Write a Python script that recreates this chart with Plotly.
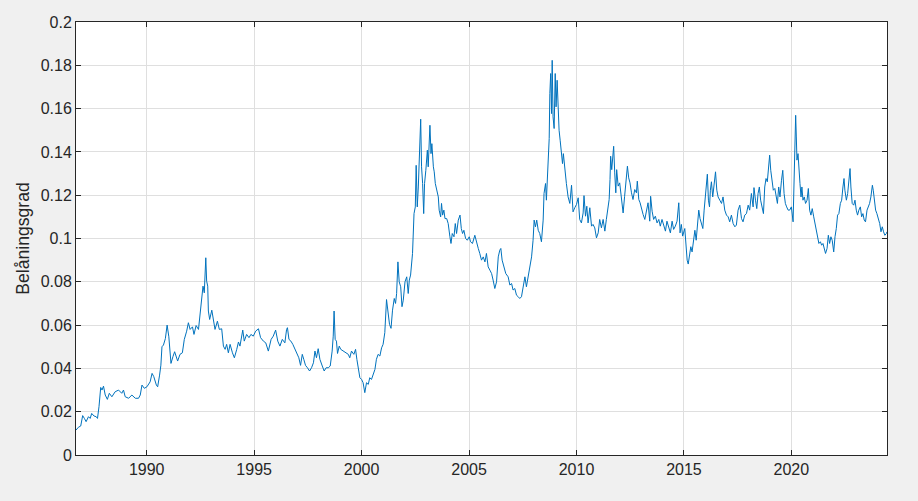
import plotly.graph_objects as go

# decimal year and loan-to-value ratio (belåningsgrad)
years = [
    1986.71, 1986.82, 1986.93, 1987.02, 1987.10, 1987.18, 1987.29, 1987.37, 1987.44, 1987.55,
    1987.65, 1987.71, 1987.78, 1987.82, 1987.86, 1987.92, 1987.99, 1988.07, 1988.17, 1988.26,
    1988.38, 1988.53, 1988.69, 1988.84, 1988.92, 1989.00, 1989.16, 1989.31, 1989.47, 1989.62,
    1989.70, 1989.78, 1989.89, 1990.01, 1990.16, 1990.25, 1990.33, 1990.45, 1990.51, 1990.60,
    1990.66, 1990.71, 1990.78, 1990.87, 1990.95, 1991.03, 1991.13, 1991.22, 1991.30,
    1991.44, 1991.55, 1991.66, 1991.75, 1991.86, 1991.94, 1992.02, 1992.13, 1992.20, 1992.30,
    1992.41, 1992.48, 1992.56, 1992.62, 1992.68, 1992.75, 1992.79, 1992.84, 1992.87, 1992.93,
    1993.03, 1993.10, 1993.18, 1993.29, 1993.38, 1993.49, 1993.57, 1993.65, 1993.72, 1993.80,
    1993.88, 1993.99, 1994.08, 1994.19, 1994.27, 1994.34, 1994.47, 1994.54, 1994.65, 1994.76,
    1994.85, 1994.96, 1995.07, 1995.20, 1995.30, 1995.43, 1995.54, 1995.66, 1995.79, 1995.89,
    1996.00, 1996.10, 1996.20, 1996.31,
    1996.43, 1996.51, 1996.55, 1996.62, 1996.71, 1996.80, 1996.90, 1996.99, 1997.08, 1997.16,
    1997.24, 1997.31, 1997.39, 1997.48, 1997.58, 1997.67, 1997.76, 1997.83, 1997.90, 1997.98,
    1998.06, 1998.17, 1998.26, 1998.35, 1998.45, 1998.54, 1998.63, 1998.68, 1998.72, 1998.77,
    1998.83, 1998.88, 1998.96, 1999.03, 1999.14, 1999.25, 1999.38, 1999.45, 1999.53, 1999.64,
    1999.72, 1999.78, 1999.84, 1999.92, 2000.00, 2000.07, 2000.15, 2000.23, 2000.31, 2000.38,
    2000.46, 2000.54, 2000.62, 2000.69, 2000.77, 2000.85, 2000.93, 2001.00, 2001.08, 2001.16,
    2001.24, 2001.30,
    2001.37, 2001.44, 2001.52, 2001.58, 2001.63, 2001.69, 2001.75, 2001.82, 2001.88, 2001.94,
    2002.02, 2002.10, 2002.17, 2002.22, 2002.28, 2002.33, 2002.37, 2002.44, 2002.50, 2002.54,
    2002.59, 2002.64, 2002.68, 2002.75, 2002.79, 2002.84, 2002.89, 2002.93, 2002.99, 2003.06,
    2003.10, 2003.15, 2003.18, 2003.23, 2003.27, 2003.34, 2003.38, 2003.43, 2003.49, 2003.57,
    2003.61, 2003.68, 2003.72, 2003.77, 2003.83, 2003.88, 2003.96, 2004.03, 2004.11, 2004.16,
    2004.22, 2004.30, 2004.36, 2004.42, 2004.50, 2004.58, 2004.64, 2004.70, 2004.76, 2004.84,
    2004.92, 2005.01, 2005.07, 2005.16,
    2005.27, 2005.35, 2005.43, 2005.50, 2005.58, 2005.66, 2005.74, 2005.81, 2005.89, 2005.97,
    2006.05, 2006.12, 2006.20, 2006.28, 2006.36, 2006.43, 2006.48, 2006.54, 2006.63, 2006.71,
    2006.82, 2006.90, 2006.98, 2007.05, 2007.13, 2007.21, 2007.29, 2007.36, 2007.44, 2007.52,
    2007.60, 2007.67, 2007.75, 2007.83, 2007.91, 2007.98, 2008.03, 2008.09, 2008.15, 2008.22,
    2008.29, 2008.37, 2008.45, 2008.49, 2008.56, 2008.60, 2008.65, 2008.68, 2008.73, 2008.76,
    2008.80, 2008.84, 2008.87, 2008.91, 2008.96, 2009.01, 2009.05, 2009.10, 2009.15, 2009.19,
    2009.24, 2009.30, 2009.35, 2009.39, 2009.46, 2009.53, 2009.61, 2009.69, 2009.77, 2009.84,
    2009.92, 2010.00, 2010.08, 2010.15, 2010.23, 2010.31, 2010.35, 2010.42, 2010.48, 2010.54,
    2010.62, 2010.70, 2010.77, 2010.85, 2010.93, 2011.01, 2011.08, 2011.16, 2011.24, 2011.32,
    2011.39, 2011.47, 2011.52, 2011.56, 2011.59, 2011.64, 2011.69, 2011.73, 2011.78, 2011.83,
    2011.87, 2011.94, 2012.01, 2012.09, 2012.17, 2012.24, 2012.32, 2012.37, 2012.43, 2012.49,
    2012.56, 2012.63, 2012.71, 2012.79, 2012.83, 2012.90, 2012.96, 2013.02, 2013.10, 2013.18,
    2013.25, 2013.33, 2013.41, 2013.45, 2013.52, 2013.59, 2013.67, 2013.75, 2013.83, 2013.90,
    2013.98, 2014.06, 2014.14, 2014.21, 2014.29, 2014.37, 2014.45, 2014.52, 2014.60, 2014.68,
    2014.76, 2014.82, 2014.88, 2014.94,
    2015.04, 2015.09, 2015.15, 2015.20, 2015.26, 2015.32, 2015.38, 2015.44, 2015.51, 2015.57,
    2015.63, 2015.69, 2015.75, 2015.82, 2015.88, 2015.94, 2016.00, 2016.06, 2016.09, 2016.14,
    2016.19, 2016.23, 2016.28, 2016.34, 2016.40, 2016.47, 2016.53, 2016.59, 2016.67, 2016.75,
    2016.82, 2016.90, 2016.98, 2017.06, 2017.13, 2017.21, 2017.29, 2017.37, 2017.44, 2017.52,
    2017.60, 2017.68, 2017.75, 2017.83, 2017.91, 2017.99, 2018.06, 2018.14, 2018.22, 2018.26,
    2018.33, 2018.39, 2018.45, 2018.51, 2018.57, 2018.64, 2018.70, 2018.76, 2018.82, 2018.88,
    2018.95, 2018.99, 2019.04, 2019.10, 2019.16, 2019.23, 2019.29, 2019.35, 2019.41, 2019.47,
    2019.54, 2019.60, 2019.66, 2019.72, 2019.78, 2019.85,
    2019.92, 2020.00, 2020.08, 2020.12, 2020.17, 2020.20, 2020.23, 2020.26, 2020.31, 2020.35,
    2020.40, 2020.45, 2020.49, 2020.54, 2020.60, 2020.66, 2020.73, 2020.79, 2020.85, 2020.91,
    2020.97, 2021.04, 2021.10, 2021.16, 2021.22, 2021.28, 2021.35, 2021.41, 2021.47, 2021.53,
    2021.59, 2021.66, 2021.72, 2021.78, 2021.84, 2021.90, 2021.97, 2022.03, 2022.09, 2022.15,
    2022.21, 2022.28, 2022.34, 2022.40, 2022.45, 2022.49, 2022.56, 2022.62, 2022.68, 2022.73,
    2022.77, 2022.83, 2022.90, 2022.96, 2023.02, 2023.08, 2023.14, 2023.21, 2023.27, 2023.33,
    2023.39, 2023.45, 2023.52, 2023.58, 2023.64, 2023.70, 2023.77, 2023.81, 2023.86, 2023.92,
    2023.98, 2024.04, 2024.11, 2024.17, 2024.23, 2024.29, 2024.35, 2024.42, 2024.45,
]

belaning = [
    0.0115, 0.0128, 0.0134, 0.0182, 0.0169, 0.0154, 0.0177, 0.0169, 0.0192, 0.0180,
    0.0177, 0.0169, 0.0223, 0.0269, 0.0312, 0.0300, 0.0318, 0.0277, 0.0257, 0.0285,
    0.0269, 0.0292, 0.0300, 0.0285, 0.0300, 0.0269, 0.0262, 0.0277, 0.0262, 0.0262,
    0.0277, 0.0323, 0.0308, 0.0315, 0.0338, 0.0377, 0.0362, 0.0323, 0.0315, 0.0369,
    0.0415, 0.0500, 0.0508, 0.0538, 0.0600, 0.0546, 0.0423, 0.0454, 0.0477,
    0.0434, 0.0465, 0.0472, 0.0534, 0.0572, 0.0611, 0.0580, 0.0592, 0.0557, 0.0598,
    0.0580, 0.0657, 0.0718, 0.0780, 0.0749, 0.0911, 0.0803, 0.0780, 0.0665, 0.0626,
    0.0669, 0.0618, 0.0580, 0.0618, 0.0580, 0.0583, 0.0503, 0.0488, 0.0511, 0.0472,
    0.0511, 0.0472, 0.0449, 0.0488, 0.0522, 0.0503, 0.0577, 0.0526, 0.0557, 0.0542,
    0.0557, 0.0549, 0.0572, 0.0583, 0.0542, 0.0526, 0.0518, 0.0480, 0.0534, 0.0549,
    0.0577, 0.0526, 0.0503, 0.0534,
    0.0518, 0.0580, 0.0588, 0.0534, 0.0526, 0.0511, 0.0488, 0.0465, 0.0449, 0.0414,
    0.0465, 0.0442, 0.0414, 0.0403, 0.0388, 0.0403, 0.0426, 0.0480, 0.0449, 0.0491,
    0.0442, 0.0411, 0.0388, 0.0403, 0.0403, 0.0411, 0.0480, 0.0549, 0.0665, 0.0534,
    0.0526, 0.0469, 0.0503, 0.0488, 0.0480, 0.0472, 0.0465, 0.0449, 0.0480, 0.0465,
    0.0488, 0.0442, 0.0403, 0.0357, 0.0349, 0.0334, 0.0288, 0.0334, 0.0326, 0.0357,
    0.0349, 0.0372, 0.0395, 0.0442, 0.0465, 0.0457, 0.0495, 0.0511, 0.0565, 0.0718,
    0.0642, 0.0603,
    0.0585, 0.0669, 0.0723, 0.0700, 0.0746, 0.0892, 0.0800, 0.0777, 0.0685, 0.0715,
    0.0800, 0.0823, 0.0746, 0.0808, 0.0831, 0.0900, 0.0931, 0.1115, 0.1146, 0.1338,
    0.1146, 0.1238, 0.1362, 0.1551, 0.1331, 0.1254, 0.1115, 0.1254, 0.1315, 0.1408,
    0.1331, 0.1469, 0.1523, 0.1392, 0.1438, 0.1331, 0.1308, 0.1254, 0.1223, 0.1192,
    0.1131, 0.1100, 0.1162, 0.1108, 0.1131, 0.1092, 0.1092, 0.1069, 0.1008, 0.0977,
    0.1023, 0.1008, 0.1069, 0.1023, 0.1085, 0.1108, 0.1046, 0.1023, 0.1038, 0.1000,
    0.0992, 0.1008, 0.0985, 0.0977,
    0.1015, 0.0977, 0.0954, 0.0931, 0.0900, 0.0915, 0.0892, 0.0931, 0.0869, 0.0854,
    0.0838, 0.0808, 0.0769, 0.0800, 0.0915, 0.0946, 0.0954, 0.0900, 0.0869, 0.0838,
    0.0823, 0.0785, 0.0792, 0.0762, 0.0769, 0.0738, 0.0731, 0.0723, 0.0731, 0.0777,
    0.0823, 0.0777, 0.0823, 0.0885, 0.0915, 0.0992, 0.1085, 0.1054, 0.1085, 0.1038,
    0.1023, 0.0985, 0.1085, 0.1208, 0.1254, 0.1177, 0.1269, 0.1323, 0.1462, 0.1669,
    0.1762, 0.1577, 0.1823, 0.1562, 0.1508, 0.1762, 0.1608, 0.1731, 0.1562, 0.1500,
    0.1454, 0.1408, 0.1346, 0.1392, 0.1315, 0.1254, 0.1192, 0.1162, 0.1246, 0.1123,
    0.1142, 0.1157, 0.1188, 0.1088, 0.1072, 0.1118, 0.1198, 0.1103, 0.1149, 0.1072,
    0.1142, 0.1057, 0.1065, 0.1049, 0.1003, 0.1026, 0.1088, 0.1049, 0.1088, 0.1034,
    0.1088, 0.1142, 0.1180, 0.1272, 0.1380, 0.1318, 0.1408, 0.1426, 0.1303, 0.1211,
    0.1318, 0.1242, 0.1257, 0.1195, 0.1118, 0.1195, 0.1288, 0.1334, 0.1280, 0.1257,
    0.1211, 0.1180, 0.1226, 0.1211, 0.1265, 0.1180, 0.1165, 0.1134, 0.1111, 0.1088,
    0.1118, 0.1165, 0.1080, 0.1195, 0.1126, 0.1088, 0.1103, 0.1072, 0.1088, 0.1057,
    0.1088, 0.1065, 0.1034, 0.1080, 0.1057, 0.1026, 0.1080, 0.1042, 0.1057, 0.1080,
    0.1165, 0.1026, 0.1065, 0.1011,
    0.1046, 0.0962, 0.0900, 0.0882, 0.0915, 0.0962, 0.0938, 0.0977, 0.1038, 0.0992,
    0.1069, 0.1131, 0.1092, 0.1069, 0.1046, 0.1131, 0.1192, 0.1269, 0.1297, 0.1177,
    0.1146, 0.1223, 0.1262, 0.1192, 0.1238, 0.1308, 0.1223, 0.1192, 0.1177, 0.1162,
    0.1192, 0.1131, 0.1108, 0.1100, 0.1077, 0.1108, 0.1069, 0.1054, 0.1062, 0.1131,
    0.1154, 0.1092, 0.1077, 0.1108, 0.1115, 0.1154, 0.1131, 0.1208, 0.1146, 0.1235,
    0.1177, 0.1138, 0.1208, 0.1238, 0.1177, 0.1146, 0.1115, 0.1238, 0.1277, 0.1262,
    0.1338, 0.1385, 0.1315, 0.1269, 0.1223, 0.1231, 0.1192, 0.1162, 0.1238, 0.1192,
    0.1269, 0.1315, 0.1208, 0.1162, 0.1146, 0.1131,
    0.1131, 0.1146, 0.1077, 0.1254, 0.1454, 0.1569, 0.1469, 0.1362, 0.1392, 0.1315,
    0.1254, 0.1192, 0.1238, 0.1177, 0.1192, 0.1162, 0.1177, 0.1231, 0.1131, 0.1108,
    0.1138, 0.1100, 0.1069, 0.1023, 0.0992, 0.0977, 0.0985, 0.0969, 0.0977, 0.0954,
    0.0931, 0.0954, 0.1015, 0.0977, 0.1008, 0.0992, 0.0938, 0.1008, 0.1046, 0.1108,
    0.1115, 0.1162, 0.1177, 0.1238, 0.1277, 0.1223, 0.1177, 0.1208, 0.1269, 0.1323,
    0.1238, 0.1162, 0.1154, 0.1177, 0.1131, 0.1108, 0.1131, 0.1146, 0.1100, 0.1115,
    0.1085, 0.1077, 0.1131, 0.1146, 0.1162, 0.1192, 0.1246, 0.1223, 0.1162, 0.1131,
    0.1115, 0.1092, 0.1069, 0.1031, 0.1054, 0.1031, 0.1015, 0.1023, 0.1031,
]

x_ticks = [1990, 1995, 2000, 2005, 2010, 2015, 2020]
y_ticks = [0, 0.02, 0.04, 0.06, 0.08, 0.1, 0.12, 0.14, 0.16, 0.18, 0.2]
y_tick_labels = ['0', '0.02', '0.04', '0.06', '0.08', '0.1', '0.12', '0.14',
                 '0.16', '0.18', '0.2']

axis_color = '#262626'
grid_color = '#dfdfdf'
font_family = 'Liberation Sans, Arial, sans-serif'

fig = go.Figure()
fig.add_trace(go.Scatter(
    x=years,
    y=belaning,
    mode='lines',
    line=dict(color='#0072BD', width=1),
    showlegend=False,
))

axis_common = dict(
    showline=True,
    linecolor=axis_color,
    linewidth=1,
    mirror='allticks',
    ticks='inside',
    ticklen=5,
    tickcolor=axis_color,
    showgrid=True,
    gridcolor=grid_color,
    gridwidth=1,
    zeroline=False,
    tickfont=dict(family=font_family, size=16, color=axis_color),
)

fig.update_layout(
    width=918,
    height=501,
    margin=dict(l=76, r=31, t=22, b=46),
    paper_bgcolor='#f0f0f0',
    plot_bgcolor='white',
    xaxis=dict(
        range=[1986.71, 2024.45],
        tickvals=x_ticks,
        ticktext=[str(t) for t in x_ticks],
        **axis_common,
    ),
    yaxis=dict(
        range=[0, 0.2],
        tickvals=y_ticks,
        ticktext=y_tick_labels,
        title=dict(text='Belåningsgrad', standoff=6,
                   font=dict(family=font_family, size=17.6, color=axis_color)),
        **axis_common,
    ),
)

# drop the default page margin so the figure sits at the window's corner
fig.write_html(
    'out.html',
    config={'displayModeBar': False},
    post_script="document.body.style.margin='0';"
                "document.body.style.background='#f0f0f0';"
                "document.body.style.overflow='hidden';",
)
